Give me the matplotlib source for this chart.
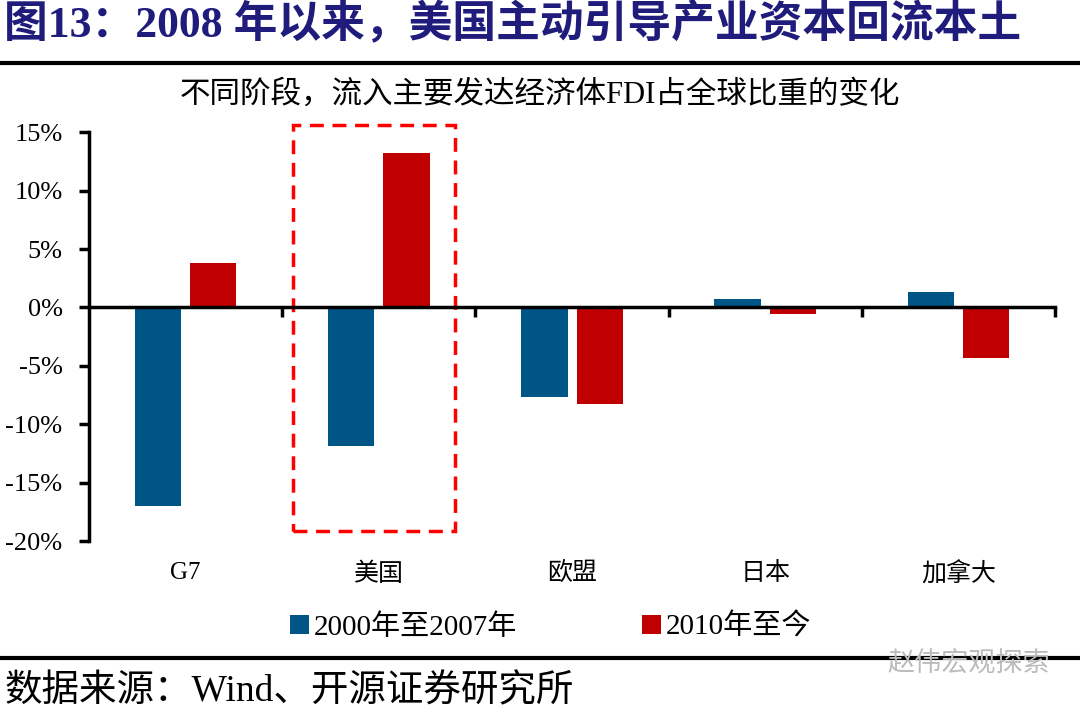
import matplotlib
matplotlib.use("Agg")
import matplotlib.pyplot as plt
from matplotlib.patches import Rectangle
from matplotlib.lines import Line2D
import numpy as np

plt.rcParams["font.family"] = ["Liberation Serif", "Noto Sans CJK SC", "DejaVu Sans"]

categories = ["G7", "美国", "欧盟", "日本", "加拿大"]
period_2000_2007 = [-17.0, -11.9, -7.7, 0.7, 1.3]
period_2010_now = [3.8, 13.2, -8.3, -0.6, -4.3]
series_names = ["2000年至2007年", "2010年至今"]
yticks = [-20, -15, -10, -5, 0, 5, 10, 15]

BLUE = "#005587"
RED = "#C00000"
NAVY = "#1F1C7C"

fig = plt.figure(figsize=(10.8, 7.11), dpi=100)
ax = fig.add_axes([0.0824, 0.239, 0.8946, 0.575])

x = np.arange(len(categories))
w = 0.24
off = 0.143
b1 = ax.bar(x - off, period_2000_2007, width=w, color=BLUE, label=series_names[0])
b2 = ax.bar(x + off, period_2010_now, width=w, color=RED, label=series_names[1])

ax.set_xlim(-0.5, len(categories) - 0.5)
ax.set_ylim(-20, 15)
ax.set_yticks(yticks)
ax.set_yticklabels([f"{v}%" for v in yticks], fontsize=19)
ax.tick_params(axis="y", length=7, width=2.5, direction="out", pad=12)

# category axis sits on zero, ticks between categories
ax.spines["bottom"].set_position(("data", 0))
ax.spines["top"].set_visible(False)
ax.spines["right"].set_visible(False)
ax.spines["left"].set_linewidth(2.5)
ax.spines["bottom"].set_linewidth(2.5)
ax.set_xticks(np.arange(0.5, len(categories), 1.0))
ax.set_xticklabels([])
ax.tick_params(axis="x", length=7, width=2.5, direction="out")
for i, c in enumerate(categories):
    ax.text(i, -21.8, c, ha="center", va="top", fontsize=18, clip_on=False)

# dashed highlight around 美国
ax.add_patch(Rectangle((0.556, -19.1), 0.838, 34.7, fill=False, edgecolor="#FF0000",
                       linestyle=(0, (4, 2.5)), linewidth=2.5, clip_on=False))

leg = fig.legend(handles=[b1, b2], loc="center", bbox_to_anchor=(0.51, 0.118), ncol=2,
                 frameon=False, fontsize=21, handlelength=0.65, handleheight=0.65,
                 columnspacing=4.3, handletextpad=0.15)

# title, rules and notes
fig.text(0.004, 0.965, "图13：2008 年以来，美国主动引导产业资本回流本土", fontsize=31.5,
         fontweight="bold", color=NAVY, ha="left", va="center")
fig.add_artist(Line2D([0, 1], [0.911, 0.911], color="black", linewidth=3))
fig.text(0.5, 0.866, "不同阶段，流入主要发达经济体FDI占全球比重的变化", fontsize=22,
         ha="center", va="center")
fig.add_artist(Line2D([0, 1], [0.075, 0.075], color="black", linewidth=3))
fig.text(0.004, 0.027, "数据来源：Wind、开源证券研究所", fontsize=27, ha="left", va="center")
fig.text(0.822, 0.068, "赵伟宏观探索", fontsize=19.5, color="#BBBBBB", ha="left", va="center",
         family=["Noto Sans CJK SC"])

fig.savefig("out.png", dpi=100)
